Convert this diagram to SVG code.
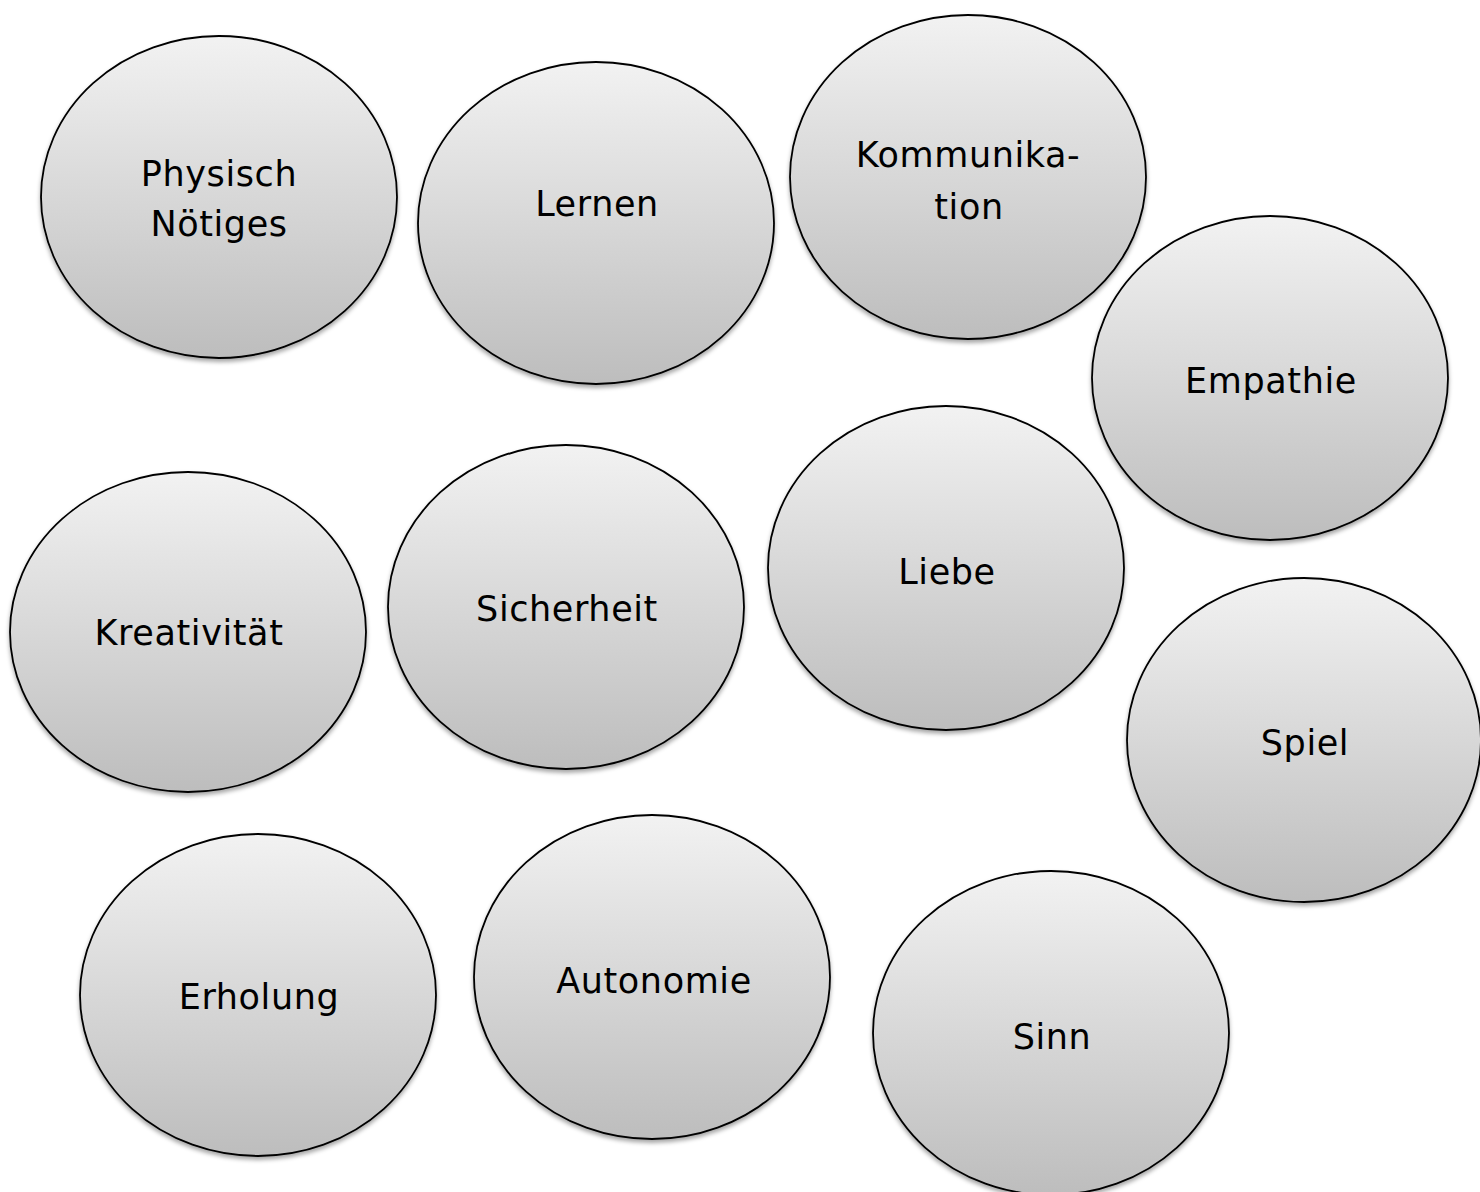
<svg xmlns="http://www.w3.org/2000/svg" width="1480" height="1192" viewBox="0 0 1480 1192">
<defs>
<linearGradient id="g" x1="0" y1="0" x2="0" y2="1">
<stop offset="0" stop-color="#f2f2f2"/>
<stop offset="1" stop-color="#bdbdbd"/>
</linearGradient>
<filter id="sh" x="-10%" y="-10%" width="120%" height="125%">
<feDropShadow dx="0" dy="3" stdDeviation="2" flood-color="#000" flood-opacity="0.35"/>
</filter>
<style>
.n ellipse{fill:url(#g);stroke:#000;stroke-width:1.8;filter:url(#sh)}
.n text{font-family:"DejaVu Sans","Liberation Sans",sans-serif;font-size:35px;letter-spacing:0.6px;fill:#000;text-anchor:middle}
</style>
</defs>
<rect width="1480" height="1192" fill="#fff"/>
<g id="connectors"/>
<g id="n1" class="n"><ellipse cx="219" cy="197" rx="178" ry="161"/><text x="219" y="186">Physisch</text><text x="219" y="236">Nötiges</text></g>
<g id="n2" class="n"><ellipse cx="596" cy="223" rx="178" ry="161"/><text x="597" y="216">Lernen</text></g>
<g id="n3" class="n"><ellipse cx="968" cy="177" rx="178" ry="162"/><text x="968" y="167">Kommunika-</text><text x="969" y="219">tion</text></g>
<g id="n4" class="n"><ellipse cx="1270" cy="378" rx="178" ry="162"/><text x="1271" y="393">Empathie</text></g>
<g id="n5" class="n"><ellipse cx="188" cy="632" rx="178" ry="160"/><text x="189" y="645">Kreativität</text></g>
<g id="n6" class="n"><ellipse cx="566" cy="607" rx="178" ry="162"/><text x="567" y="621">Sicherheit</text></g>
<g id="n7" class="n"><ellipse cx="946" cy="568" rx="178" ry="162"/><text x="947" y="584">Liebe</text></g>
<g id="n8" class="n"><ellipse cx="1304" cy="740" rx="177" ry="162"/><text x="1305" y="755">Spiel</text></g>
<g id="n9" class="n"><ellipse cx="258" cy="995" rx="178" ry="161"/><text x="259" y="1009">Erholung</text></g>
<g id="n10" class="n"><ellipse cx="652" cy="977" rx="178" ry="162"/><text x="654" y="993">Autonomie</text></g>
<g id="n11" class="n"><ellipse cx="1051" cy="1033" rx="178" ry="162"/><text x="1052" y="1049">Sinn</text></g>
</svg>
